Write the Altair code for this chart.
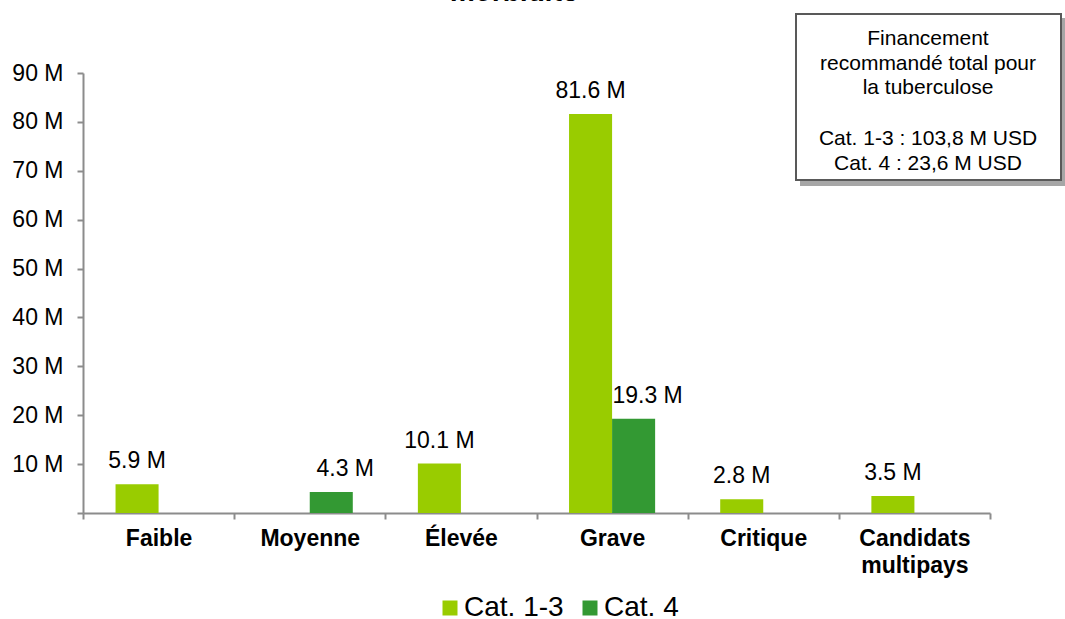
import altair as alt
import pandas as pd

# Recommended funding by disease burden level (millions USD)
niveaux = ["Faible", "Moyenne", "Élevée", "Grave", "Critique", "Candidats multipays"]
series = ["Cat. 1-3", "Cat. 4"]
cat_1_3 = [5.9, None, 10.1, 81.6, 2.8, 3.5]
cat_4 = [None, 4.3, None, 19.3, None, None]
couleurs = ["#99CC00", "#339933"]
graduations = [0, 10, 20, 30, 40, 50, 60, 70, 80, 90]

titre = "morbidité"
encadre_titre = ["Financement", "recommandé total pour", "la tuberculose"]
encadre_totaux = ["Cat. 1-3 : 103,8 M USD", "Cat. 4 : 23,6 M USD"]

rows = []
for i, niveau in enumerate(niveaux):
    for serie, valeurs in zip(series, [cat_1_3, cat_4]):
        v = valeurs[i]
        if v is not None:
            rows.append({"niveau": niveau, "categorie": serie, "montant": v,
                         "etiquette": f"{v:.1f} M"})
df = pd.DataFrame(rows)
one = pd.DataFrame({"k": [0]})

AXIS_GREY = "#8c8c8c"

x_enc = alt.X(
    "niveau:N", sort=niveaux,
    scale=alt.Scale(paddingInner=0, paddingOuter=0),
    axis=alt.Axis(
        title=None, labelAngle=0, tickBand="extent",
        labelFontSize=23, labelFontWeight="bold", labelColor="black",
        labelPadding=8, labelBaseline="top", labelLineHeight=27,
        labelExpr="datum.label == 'Candidats multipays' ? ['Candidats', 'multipays'] : datum.label",
        domainColor=AXIS_GREY, domainWidth=2, tickColor=AXIS_GREY, tickWidth=2, tickSize=6,
    ),
)
xoff_enc = alt.XOffset(
    "categorie:N", sort=series,
    scale=alt.Scale(domain=series, paddingOuter=0.756, paddingInner=0),
)
y_enc = alt.Y(
    "montant:Q",
    scale=alt.Scale(domain=[0, 90], nice=False),
    axis=alt.Axis(
        title=None, values=graduations, grid=False,
        labelExpr="datum.value == 0 ? '' : datum.value + ' M'",
        labelFontSize=23, labelColor="black", labelPadding=14,
        domainColor=AXIS_GREY, domainWidth=2, tickColor=AXIS_GREY, tickWidth=2, tickSize=6,
    ),
)

base = alt.Chart(df)

bars = base.mark_bar().encode(
    x=x_enc,
    xOffset=xoff_enc,
    y=y_enc,
    color=alt.Color(
        "categorie:N",
        scale=alt.Scale(domain=series, range=couleurs),
        legend=alt.Legend(
            title=None, orient="none", legendX=353, legendY=521,
            direction="horizontal", symbolType="square", symbolSize=225,
            symbolStrokeWidth=0, labelFontSize=28, labelColor="black",
            labelOffset=0, columnPadding=12, padding=0,
        ),
    ),
)

labels_a = base.transform_filter(alt.datum.categorie == "Cat. 1-3").mark_text(
    baseline="alphabetic", dy=-16, fontSize=23, color="black"
).encode(x=x_enc, xOffset=xoff_enc, y=y_enc, text="etiquette:N")

labels_b = base.transform_filter(alt.datum.categorie == "Cat. 4").mark_text(
    baseline="alphabetic", dy=-16, dx=14, fontSize=23, color="black"
).encode(x=x_enc, xOffset=xoff_enc, y=y_enc, text="etiquette:N")

# Summary box with drop shadow, top right
shadow = alt.Chart(one).mark_rect(fill="#a6a6a6").encode(
    x=alt.value(717), x2=alt.value(984), y=alt.value(-55), y2=alt.value(113)
)
box = alt.Chart(one).mark_rect(fill="white", stroke="#595959", strokeWidth=2).encode(
    x=alt.value(713), x2=alt.value(978), y=alt.value(-59), y2=alt.value(107)
)
box_text_1 = alt.Chart(one).mark_text(
    align="center", baseline="top", fontSize=21, lineHeight=24.5, color="black"
).encode(x=alt.value(845), y=alt.value(-45), text=alt.value(encadre_titre))
box_text_2 = alt.Chart(one).mark_text(
    align="center", baseline="top", fontSize=21, lineHeight=24.5, color="black"
).encode(x=alt.value(845), y=alt.value(55), text=alt.value(encadre_totaux))

# Second line of the chart title, running off the top edge
title_text = alt.Chart(one).mark_text(
    align="center", baseline="alphabetic", fontSize=28, fontStyle="italic",
    fontWeight="bold", color="black"
).encode(x=alt.value(432), y=alt.value(-72), text=alt.value(titre))

chart = alt.layer(
    bars, labels_a, labels_b, shadow, box, box_text_1, box_text_2, title_text
).properties(
    width=907, height=440,
    autosize=alt.AutoSizeParams(type="none"),
    padding={"left": 83, "top": 73, "right": 75, "bottom": 106},
).configure(font="Liberation Sans").configure_view(stroke=None)

chart.save("out.html", embed_options={"renderer": "svg", "actions": False})
